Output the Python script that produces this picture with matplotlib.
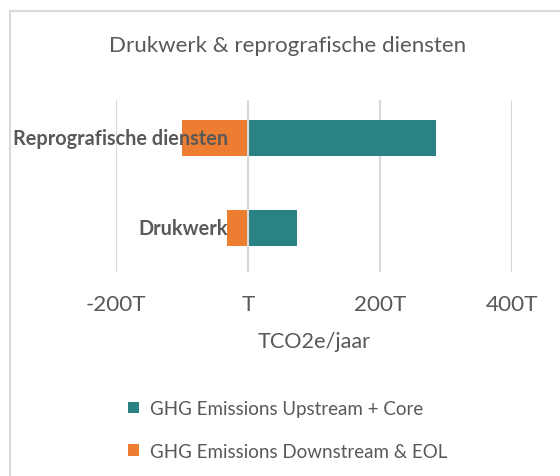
import matplotlib.pyplot as plt
from matplotlib.lines import Line2D

plt.rcParams['font.family'] = ['Lato', 'DejaVu Sans']

categories = ['Drukwerk', 'Reprografische diensten']
upstream_core = [74, 285]
downstream_eol = [-32, -100]
tick_values = [-200, 0, 200, 400]
tick_labels = ['-200T', 'T', '200T', '400T']
series_names = ['GHG Emissions Upstream + Core', 'GHG Emissions Downstream & EOL']

teal = '#2B8285'
orange = '#ED7D31'
grey_txt = '#595959'
grid_col = '#D9D9D9'

W, H = 560, 477
fig = plt.figure(figsize=(W / 100, H / 100), dpi=100)
ax = fig.add_axes([116 / W, 1 - 273 / H, 396 / W, 172 / H])

y = list(range(len(categories)))
b1 = ax.barh(y, upstream_core, height=0.4, color=teal, zorder=2)
b2 = ax.barh(y, downstream_eol, height=0.4, color=orange, zorder=2)

ax.set_xlim(-200, 400)
ax.set_ylim(-0.49, 1.42)
ax.set_xticks(tick_values)
ax.set_xticklabels(tick_labels, fontsize=16.2, color=grey_txt)
ax.tick_params(axis='x', length=0, pad=16)
ax.set_yticks([])
for s in ax.spines.values():
    s.set_visible(False)
ax.grid(axis='x', color=grid_col, linewidth=1.5, zorder=0)
ax.axvline(0, color=grid_col, linewidth=1.5, zorder=3)

# category labels sit next to the zero axis
for yi, name in zip(y, categories):
    ax.annotate(name, xy=(0, yi), xytext=(-14.5, 0), textcoords='offset points',
                ha='right', va='center', fontsize=14.3, fontweight='bold',
                color=grey_txt, zorder=4)

ax.set_xlabel('TCO2e/jaar', fontsize=15.6, color=grey_txt, labelpad=12)

fig.text(288 / W, 1 - 46 / H, 'Drukwerk & reprografische diensten',
         ha='center', va='center', fontsize=16, color=grey_txt)

fig.legend([b1, b2], series_names, loc='center left',
           bbox_to_anchor=(128 / W, 1 - 431 / H), frameon=False,
           fontsize=13.5, labelcolor=grey_txt, handlelength=0.6, handleheight=0.6,
           handletextpad=0.6, labelspacing=1.38, borderpad=0, borderaxespad=0)

# chart frame (cropped)
fig.add_artist(Line2D([10 / W, 10 / W], [0, 1 - 12 / H], color=grid_col, lw=1.5))
fig.add_artist(Line2D([10 / W, 1], [1 - 12 / H, 1 - 12 / H], color=grid_col, lw=1.5))

fig.savefig('out.png', dpi=100)
